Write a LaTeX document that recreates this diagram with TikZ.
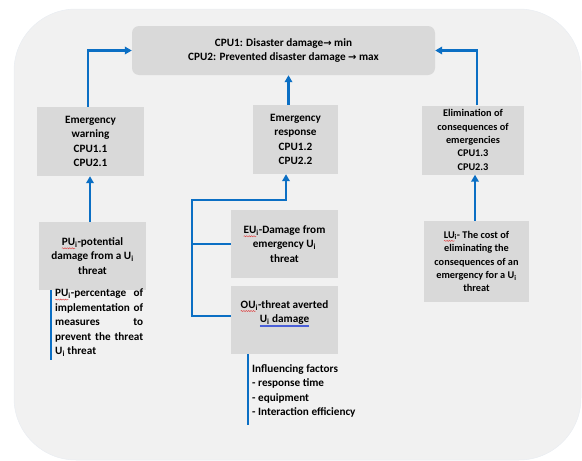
\documentclass[tikz,border=0pt]{standalone}
\usepackage{fontspec}
\setmainfont{Carlito}
\newfontfamily\arrowfont{DejaVu Sans}
\usetikzlibrary{arrows.meta,decorations.pathmorphing}
\definecolor{bgc}{HTML}{F1F1F1}
\definecolor{bgline}{HTML}{E9EDF2}
\definecolor{boxc}{HTML}{D9D9D9}
\definecolor{lnc}{HTML}{0B6FC4}
\definecolor{spellred}{HTML}{E04040}
\definecolor{spellblue}{HTML}{4A5FD8}
\newsavebox{\spbox}
\newlength{\splen}
\newcommand{\rarr}{{\arrowfont\bfseries\fontsize{10}{10}\selectfont →}}
\newcommand{\spw}[1]{\sbox\spbox{#1}\setlength{\splen}{\wd\spbox}%
  \rlap{\tikz[overlay,x=1pt,y=1pt]\draw[spellred,line width=0.45pt,decorate,
    decoration={snake,amplitude=0.55pt,segment length=2.4pt}] (0pt,-2.6pt) -- (\splen,-2.6pt);}#1}
\newcommand{\spb}[1]{\sbox\spbox{#1}\setlength{\splen}{\wd\spbox}%
  \rlap{\color{spellblue}\rule[-2.2pt]{\splen}{0.4pt}}%
  \rlap{\color{spellblue}\rule[-3.5pt]{\splen}{0.4pt}}#1}
\tikzset{
  box/.style={fill=boxc, draw=none, inner sep=0pt, align=center,
    font=\bfseries\fontsize{11.2}{14.2}\selectfont},
  smallbox/.style={box, font=\bfseries\fontsize{10.3}{13.4}\selectfont},
  plain/.style={inner sep=0pt, font=\bfseries\fontsize{11.2}{14.5}\selectfont},
  conn/.style={draw=lnc, line width=2.4pt},
  arr/.style={conn, -{Triangle[length=7pt,width=7.5pt]}},
}
\begin{document}
\begin{tikzpicture}[x=1pt,y=-1pt]
\useasboundingbox (0,0) rectangle (582,461);
% background panel
\fill[bgc, draw=bgline, line width=0.5pt, rounded corners=62pt] (14,9) rectangle (581,460);

% boxes
\node[box, minimum width=303pt, minimum height=49pt, rounded corners=7pt] (top) at (283.5,50.5)
  {CPU1: Disaster damage\rarr{} min\\CPU2: Prevented disaster damage \rarr{} max};
\node[box, minimum width=107pt, minimum height=69pt] (warn) at (90.5,141.5)
  {Emergency\\warning\\CPU1.1\\CPU2.1};
\node[box, minimum width=85pt, minimum height=69pt] (resp) at (295.5,139.5)
  {Emergency\\response\\CPU1.2\\CPU2.2};
\node[smallbox, minimum width=102pt, minimum height=69pt] (elim) at (473,140)
  {Elimination of\\consequences of\\emergencies\\CPU1.3\\CPU2.3};
\node[box, minimum width=107pt, minimum height=68pt] (pu) at (92.5,256)
  {\spw{PU}\textsubscript{i}-potential\\damage from a U\textsubscript{i}\\threat};
\node[box, minimum width=107pt, minimum height=68pt] (eu) at (284.5,244)
  {\spw{EU}\textsubscript{i}-Damage from\\emergency U\textsubscript{i}\\threat};
\node[box, minimum width=107pt, minimum height=68pt] (ou) at (284.5,320) {};
\node[plain, align=center] (outext) at (284.5,313.5)
  {\spw{OU}\textsubscript{i}-threat averted\\\spb{U\textsubscript{i} damage}};
\node[smallbox, minimum width=105pt, minimum height=81pt] (lu) at (476.5,261.5)
  {\spw{LU}\textsubscript{i}- The cost of\\eliminating the\\consequences of an\\emergency for a U\textsubscript{i}\\threat};

% side texts
\node[plain, align=left, anchor=north west] (pudesc) at (55,289)
  {\hbox to 88pt{\spw{PU}\textsubscript{i}-percentage\hfill of}\\
   \hbox to 88pt{implementation\hfill of}\\
   \hbox to 88pt{measures\hfill to}\\
   \hbox to 88pt{prevent\hfill the\hfill threat}\\
   \hbox to 88pt{U\textsubscript{i} threat\hfill}};
\node[plain, align=left, anchor=north west] (factors) at (252,364)
  {Influencing factors\\- response time\\- equipment\\- Interaction efficiency};

% connectors
\draw[arr] ([xshift=-2.5pt]warn.north) |- (top.west);
\draw[arr] ([xshift=4pt]elim.north) |- (top.east);
\draw[arr] ([xshift=-7pt]resp.north) -- ([xshift=-7pt]resp.north |- top.south);
\draw[arr] ([xshift=-2.5pt]pu.north) -- ([xshift=-2.5pt]pu.north |- warn.south);
\draw[arr] ([xshift=-1.5pt]lu.north) -- ([xshift=-1.5pt]lu.north |- elim.south);
\coordinate (jn) at (192,200);
\draw[arr] ([yshift=4pt]ou.west) -| (jn) -| ([xshift=-9.5pt]resp.south);
\draw[conn] (eu.west) -- (eu.west -| jn);
\coordinate (pul) at (51,360);
\draw[conn] (pul |- pu.south) -- (pul);
\coordinate (oul) at (248,425);
\draw[conn] (oul |- ou.south) -- (oul);
\end{tikzpicture}
\end{document}
